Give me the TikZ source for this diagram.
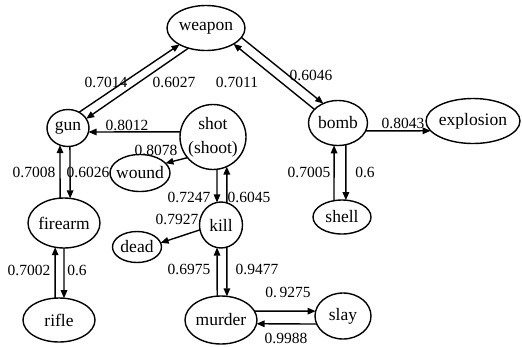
\documentclass[tikz,border=0pt]{standalone}
\usepackage{fontspec}
\setmainfont{Liberation Serif}
\usetikzlibrary{shapes.geometric,arrows.meta}
\newcommand\zt[1]{\makebox[0pt]{#1}}
\begin{document}
\begin{tikzpicture}[x=1pt,y=-1pt,
  nd/.style={ellipse, draw, line width=1.4pt, inner sep=0pt, outer sep=0pt,
    font=\fontsize{17.5}{24}\selectfont, align=center},
  lbl/.style={font=\fontsize{15.5}{18}\selectfont, inner sep=0pt},
  ar/.style={line width=1.4pt, -{Triangle[length=8pt,width=6.5pt]}}]
\useasboundingbox (0,0) rectangle (522,346);
% nodes
\node[nd, minimum width=78pt, minimum height=45pt] (weapon) at (206,28) {\zt{weapon}};
\node[nd, minimum width=42pt, minimum height=37pt] (gun) at (68,128) {\zt{gun}};
\node[nd, minimum width=66pt, minimum height=65pt] (shot) at (213,137) {\zt{shot}\\\zt{(shoot)}};
\node[nd, minimum width=60pt, minimum height=37pt] (wound) at (140,173) {\zt{wound}};
\node[nd, minimum width=43pt, minimum height=46pt] (kill) at (221,225) {\zt{kill}};
\node[nd, minimum width=49pt, minimum height=31pt] (dead) at (137,247) {\zt{dead}};
\node[nd, minimum width=72pt, minimum height=50pt] (firearm) at (64,223) {\zt{firearm}};
\node[nd, minimum width=72pt, minimum height=44pt] (rifle) at (59,320) {\zt{rifle}};
\node[nd, minimum width=72pt, minimum height=48pt] (murder) at (221,320) {\zt{murder}};
\node[nd, minimum width=56pt, minimum height=46pt] (slay) at (343,316) {\zt{slay}};
\node[nd, minimum width=59pt, minimum height=45pt] (bomb) at (338,123) {\zt{bomb}};
\node[nd, minimum width=94pt, minimum height=45pt] (explosion) at (473,121) {\zt{explosion}};
\node[nd, minimum width=58pt, minimum height=34pt] (shell) at (342,217) {\zt{shell}};
% connectors
\draw[ar] (gun.55) -- (weapon.212);
\draw[ar] (weapon.229) -- (gun.27);
\draw[ar] (bomb.150) -- (weapon.330);
\draw[ar] (weapon.345) -- (bomb.127);
\draw[ar] (bomb.344) -- (explosion.193);
\draw[ar] (shell.116) -- (bomb.260);
\draw[ar] (bomb.290) -- (shell.77);
\draw[ar] (shot.171) -- (gun.-11);
\draw[ar] (shot.219) -- (wound.21);
\draw[ar] (shot.277) -- (kill.100);
\draw[ar] (kill.75) -- (shot.295);
\draw[ar] (kill.193) -- (dead.10);
\draw[ar] (firearm.99) -- (gun.245);
\draw[ar] (gun.276) -- (firearm.76);
\draw[ar] (rifle.100) -- (firearm.250);
\draw[ar] (firearm.270) -- (rifle.77);
\draw[ar] (murder.99.5) -- (kill.260);
\draw[ar] (kill.285) -- (murder.76);
\draw[ar] (murder.15) -- (slay.170);
\draw[ar] (slay.197) -- (murder.354);
% labels
\node[lbl] (l1) at (106,82) {0.7014};
\node[lbl] (l2) at (174,82) {0.6027};
\node[lbl] (l3) at (237,82) {0.7011};
\node[lbl] (l4) at (311,75) {0.6046};
\node[lbl] (l5) at (403,123) {0.8043};
\node[lbl] (l6) at (309,172) {0.7005};
\node[lbl] (l7) at (365,172) {0.6};
\node[lbl] (l8) at (127,125) {0.8012};
\node[lbl] (l9) at (156,150) {0.8078};
\node[lbl] (l10) at (34,172) {0.7008};
\node[lbl] (l11) at (88,172) {0.6026};
\node[lbl] (l12) at (189,197) {0.7247};
\node[lbl] (l13) at (249,197) {0.6045};
\node[lbl] (l14) at (177,219) {0.7927};
\node[lbl] (l15) at (29,270) {0.7002};
\node[lbl] (l16) at (77,270) {0.6};
\node[lbl] (l17) at (189,269) {0.6975};
\node[lbl] (l18) at (257,269) {0.9477};
\node[lbl] (l19) at (288,292) {0.\,9275};
\node[lbl] (l20) at (286,338) {0.9988};
\end{tikzpicture}
\end{document}
